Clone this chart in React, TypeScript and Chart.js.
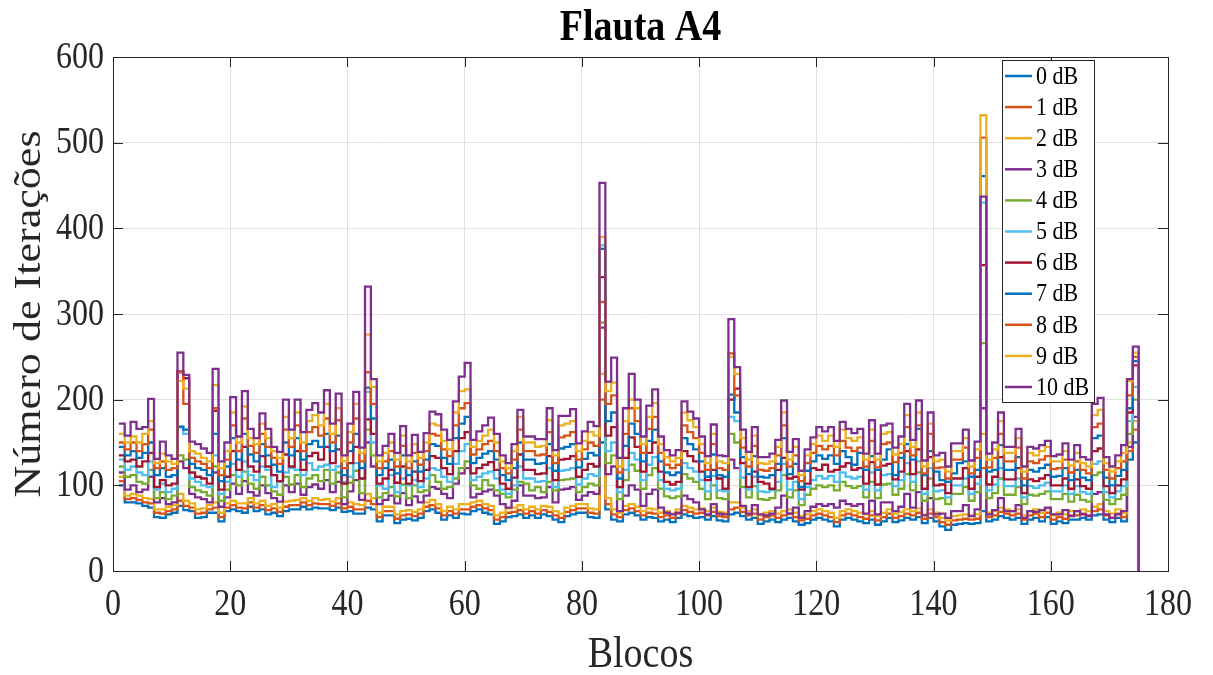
import React, { useEffect, useRef } from 'react';
import { Chart, registerables } from 'chart.js';

Chart.register(...registerables);

const FONT = "'Liberation Serif', 'Times New Roman', serif";

const titleText = 'Flauta A4';
const xTitle = 'Blocos';
const yTitle = 'Número de Iterações';
const xTicks = [0, 20, 40, 60, 80, 100, 120, 140, 160, 180];
const yTicks = [0, 100, 200, 300, 400, 500, 600];
const seriesLabels = ['0 dB', '1 dB', '2 dB', '3 dB', '4 dB', '5 dB', '6 dB', '7 dB', '8 dB', '9 dB', '10 dB'];
const seriesColors = ['#0072BD', '#D95319', '#EDB120', '#7E2F8E', '#77AC30', '#4DBEEE', '#A2142F', '#0072BD', '#D95319', '#EDB120', '#7E2F8E'];

// block numbers (categories on the x axis)
const blocks = Array.from({ length: 175 }, (_, i) => i + 1);

const db0 = [
  100,80,80,79,76,74,63,62,66,68,76,71,70,62,63,68,68,58,70,72,70,68,75,70,72,
  66,68,64,70,72,72,75,72,74,73,73,71,74,69,70,67,67,74,72,58,65,65,56,60,61,
  59,62,70,72,68,60,65,62,67,66,70,72,68,66,55,58,63,64,66,62,65,62,66,64,60,
  57,64,66,68,68,63,62,150,72,60,58,66,68,65,60,63,62,58,60,57,62,66,64,62,63,
  60,64,59,58,66,68,64,60,62,55,58,60,57,60,62,58,54,56,60,62,60,58,52,60,62,
  60,58,56,60,54,58,62,57,59,62,60,63,56,62,58,52,48,54,55,56,55,56,70,58,60,
  64,62,60,62,55,60,62,58,63,55,58,56,60,60,62,60,65,66,60,57,62,58,130,150,0,
];
const db1 = [
  105,84,85,83,80,79,68,67,70,72,82,76,74,67,68,72,74,63,74,77,74,73,80,74,77,
  71,73,69,75,77,77,80,77,79,78,78,76,79,73,75,72,72,82,78,63,70,70,61,65,66,
  64,67,75,77,73,65,70,67,72,72,75,77,73,71,60,63,68,69,71,67,70,67,71,69,65,
  62,69,71,73,73,68,67,200,78,66,63,71,73,70,65,68,67,63,65,62,67,71,69,67,68,
  65,69,64,63,72,74,69,65,67,60,63,65,62,65,67,63,59,61,65,67,65,63,57,65,67,
  65,63,61,65,59,63,67,62,64,67,65,68,61,67,63,57,54,59,60,61,60,61,120,63,65,
  69,67,65,67,60,65,67,63,68,60,63,61,65,65,67,65,70,72,65,62,67,63,140,165,0,
];
const db2 = [
  110,88,90,88,85,84,72,72,75,77,90,82,79,72,73,77,80,68,79,82,79,79,85,79,82,
  76,78,74,81,82,83,85,82,85,83,84,81,85,78,80,78,77,90,85,68,75,75,66,70,71,
  69,72,80,83,78,70,75,72,78,78,80,82,78,76,65,68,73,74,77,72,75,72,76,75,70,
  67,74,76,78,78,73,72,230,85,72,68,76,78,75,70,73,72,68,70,67,72,76,74,72,73,
  70,74,69,68,80,80,74,70,72,65,68,70,67,70,72,68,64,66,70,72,70,68,62,70,72,
  70,68,66,70,64,68,72,67,69,72,70,73,66,72,68,62,59,64,65,66,65,66,160,68,70,
  74,72,70,72,65,70,72,68,73,65,68,66,70,70,72,70,75,78,70,67,72,68,150,175,0,
];
const db3 = [
  115,95,100,92,95,110,80,85,78,80,128,120,90,86,84,80,115,75,86,102,90,105,92,88,100,
  91,85,81,100,92,102,89,98,101,96,106,92,104,78,93,106,83,150,122,78,83,88,79,91,77,
  87,80,88,98,96,90,85,102,114,120,86,90,93,95,88,78,74,82,100,88,88,85,86,98,80,
  95,96,98,83,88,92,90,284,113,122,70,88,100,95,76,90,95,74,68,66,68,88,84,80,72,
  66,78,67,66,130,120,76,67,77,66,65,67,74,88,67,74,62,70,75,78,76,78,74,82,78,
  76,78,67,82,66,80,80,70,75,90,74,92,65,85,66,67,62,70,70,77,64,72,190,66,71,
  85,70,70,77,62,70,69,71,74,66,66,71,64,70,66,64,90,92,66,62,66,70,145,180,0,
];
const db4 = [
  122,110,112,104,102,118,85,92,84,88,135,130,98,94,92,88,122,82,95,112,100,116,102,96,110,
  100,93,89,110,101,112,98,108,112,105,118,102,115,86,103,117,91,165,135,86,91,98,87,101,85,
  100,92,94,112,104,96,98,108,120,128,100,96,106,100,94,90,86,95,104,102,94,98,92,104,94,
  106,107,108,92,98,102,100,290,126,135,84,106,124,117,96,112,120,96,87,85,87,113,108,104,96,
  84,100,85,84,160,150,98,86,99,84,83,85,94,112,86,94,77,89,96,100,98,100,94,104,99,
  97,99,86,104,85,101,102,89,96,113,94,115,82,108,84,85,78,90,90,98,82,92,266,85,91,
  108,89,89,98,78,89,88,90,93,84,84,90,81,89,83,81,112,115,83,78,84,89,160,200,0,
];
const db5 = [
  130,118,122,115,112,128,95,102,92,96,169,160,108,104,100,98,135,90,104,125,110,128,112,106,122,
  118,98,104,115,120,118,112,126,118,122,124,118,122,104,110,126,108,209,150,100,96,112,92,108,100,
  106,98,108,120,118,110,104,125,140,148,106,110,114,116,108,95,90,100,122,108,108,104,105,120,98,
  117,118,120,101,108,113,111,380,140,150,92,118,138,130,106,124,133,106,96,94,96,126,120,116,106,
  93,111,94,93,180,175,109,95,110,93,92,94,104,125,95,104,84,98,106,111,108,111,104,115,110,
  108,110,95,115,94,112,113,99,106,126,104,128,90,120,93,94,86,100,100,108,90,102,430,94,101,
  120,99,99,108,86,99,97,100,103,93,93,100,90,99,92,90,125,128,92,86,93,99,175,215,0,
];
const db6 = [
  135,128,130,122,128,138,98,106,100,102,233,225,115,110,108,102,187,95,110,140,118,145,122,116,134,
  122,112,105,136,122,140,118,134,138,130,145,126,142,102,126,145,108,177,160,102,108,118,103,122,102,
  116,105,118,134,132,120,113,140,155,162,114,120,124,127,118,102,96,109,136,118,118,113,114,134,106,
  130,131,134,110,118,125,122,343,158,168,98,132,156,145,116,138,150,116,104,101,104,140,134,128,116,
  106,118,108,96,200,213,126,98,116,104,102,96,118,132,108,110,95,102,120,118,124,116,118,122,126,
  118,120,102,127,101,123,125,107,116,140,113,142,96,133,100,101,91,108,108,120,96,110,357,101,110,
  133,107,107,120,91,107,105,108,112,100,100,108,96,107,99,96,140,143,99,91,100,107,185,240,0,
];
const db7 = [
  145,135,140,132,138,150,112,120,110,112,168,165,125,120,118,112,160,105,122,155,130,160,136,128,148,
  135,124,116,150,135,155,130,148,152,145,160,140,158,112,140,160,120,214,178,112,120,130,114,135,112,
  128,116,130,148,146,132,125,155,172,180,126,132,137,140,130,112,106,120,150,130,130,125,126,148,117,
  143,145,148,121,131,138,135,376,175,185,108,146,172,160,128,152,165,128,115,112,115,155,148,142,128,
  110,136,112,110,206,185,133,113,134,110,109,112,125,155,113,125,98,117,128,135,131,135,125,140,133,
  124,138,118,134,118,130,142,112,132,148,130,166,112,140,116,106,104,114,126,128,110,118,461,116,118,
  147,118,118,133,100,118,116,120,124,110,111,120,106,118,109,106,155,158,109,100,111,118,190,245,0,
];
const db8 = [
  150,142,150,140,148,165,120,128,118,120,232,195,132,128,125,120,190,112,130,170,140,178,146,138,160,
  145,132,125,165,145,170,140,162,168,158,178,150,176,120,150,178,128,232,195,120,128,140,122,146,120,
  138,124,140,160,158,142,134,170,190,196,136,142,148,152,140,120,114,130,165,140,140,135,136,162,126,
  156,158,162,130,142,150,146,314,195,205,115,160,190,175,138,166,180,138,124,120,124,170,162,155,138,
  118,148,120,118,254,205,144,122,146,118,117,120,135,170,122,135,105,126,138,146,142,146,135,152,144,
  140,144,122,152,121,148,150,127,138,168,135,170,114,160,120,121,108,130,130,144,114,132,506,121,132,
  160,128,128,144,108,128,126,130,134,119,120,130,115,128,118,114,168,172,118,108,120,128,205,250,0,
];
const db9 = [
  160,150,157,150,160,175,126,137,128,125,222,213,140,137,132,128,217,120,140,185,150,192,155,148,172,
  155,140,132,180,155,185,150,175,182,170,195,160,190,128,162,195,138,276,215,128,138,150,130,158,128,
  148,132,150,172,170,152,142,185,210,212,145,152,158,165,150,128,120,140,180,150,150,145,146,176,135,
  170,172,175,140,152,162,158,390,210,220,122,175,200,190,148,180,196,148,133,128,132,185,176,168,148,
  126,160,128,126,250,230,155,130,158,126,125,128,145,185,130,145,112,135,148,158,152,158,145,165,155,
  152,156,130,165,130,160,162,136,148,182,145,185,122,172,128,130,116,140,140,155,122,142,532,130,142,
  175,138,138,155,116,138,135,140,145,128,128,140,123,138,126,122,182,188,126,116,128,138,222,255,0,
];
const db10 = [
  172,158,174,166,168,201,131,151,135,131,255,229,151,148,143,138,236,128,150,203,157,210,166,155,184,
  166,145,139,200,165,200,162,188,196,185,211,172,207,135,172,209,144,332,224,135,146,160,138,169,135,
  159,139,161,186,183,165,153,198,227,243,153,163,170,179,160,135,126,148,188,157,157,154,154,190,141,
  181,181,189,149,163,174,169,453,221,249,132,190,230,200,157,193,212,157,141,135,141,198,186,178,157,
  134,171,135,134,294,238,165,139,168,133,133,137,153,199,139,154,117,142,156,168,163,168,152,174,166,
  161,166,137,176,137,170,172,144,157,195,153,199,129,185,135,138,122,149,149,165,129,151,437,137,150,
  185,145,145,166,122,145,143,147,152,134,136,149,130,147,133,130,195,202,133,122,135,147,224,262,0,
];

const series = [db0, db1, db2, db3, db4, db5, db6, db7, db8, db9, db10];

const AXIS_COLOR = '#262626';
const STRETCH = 1.16; // reference text is taller than wide

function drawText(
  ctx: CanvasRenderingContext2D,
  text: string,
  x: number,
  y: number,
  font: string,
  align: CanvasTextAlign,
  color: string,
  rotate = false
) {
  ctx.save();
  ctx.translate(x, y);
  if (rotate) {
    ctx.rotate(-Math.PI / 2);
    ctx.scale(STRETCH, 1);
  } else {
    ctx.scale(1, STRETCH);
  }
  ctx.font = font;
  ctx.textAlign = align;
  ctx.textBaseline = 'middle';
  ctx.fillStyle = color;
  ctx.fillText(text, 0, 0);
  ctx.restore();
}

const decorPlugin = {
  id: 'decor',
  afterDraw(chart: any) {
    const { ctx, chartArea } = chart;
    const { left, right, top, bottom } = chartArea;
    const xs = chart.scales.x;
    const ys = chart.scales.y;
    ctx.save();
    // axes box
    ctx.strokeStyle = AXIS_COLOR;
    ctx.lineWidth = 1;
    ctx.strokeRect(Math.round(left) + 0.5, Math.round(top) + 0.5, Math.round(right - left), Math.round(bottom - top));
    // inward ticks
    const tl = 10;
    ctx.beginPath();
    xTicks.forEach((v) => {
      const px = Math.round(xs.getPixelForValue(v)) + 0.5;
      ctx.moveTo(px, bottom);
      ctx.lineTo(px, bottom - tl);
      ctx.moveTo(px, top);
      ctx.lineTo(px, top + tl);
    });
    yTicks.forEach((v) => {
      const py = Math.round(ys.getPixelForValue(v)) + 0.5;
      ctx.moveTo(left, py);
      ctx.lineTo(left + tl, py);
      ctx.moveTo(right, py);
      ctx.lineTo(right - tl, py);
    });
    ctx.stroke();
    ctx.restore();

    // tick labels
    const tickFont = `32px ${FONT}`;
    xTicks.forEach((v) => {
      drawText(ctx, String(v), xs.getPixelForValue(v), 605, tickFont, 'center', AXIS_COLOR);
    });
    yTicks.forEach((v) => {
      drawText(ctx, String(v), left - 9, ys.getPixelForValue(v) + 1, tickFont, 'right', AXIS_COLOR);
    });

    // axis titles
    const labFont = `38px ${FONT}`;
    drawText(ctx, xTitle, (left + right) / 2, 655, labFont, 'center', AXIS_COLOR);
    drawText(ctx, yTitle, 30, (top + bottom) / 2, labFont, 'center', AXIS_COLOR, true);

    // title
    drawText(ctx, titleText, (left + right) / 2, 29, `bold 38px ${FONT}`, 'center', '#000');

    // legend
    ctx.save();
    const lx = 1002;
    const ly = 60;
    const lw = 92;
    const lh = 342;
    ctx.fillStyle = '#ffffff';
    ctx.fillRect(lx, ly, lw, lh);
    ctx.strokeStyle = AXIS_COLOR;
    ctx.lineWidth = 1;
    ctx.strokeRect(lx + 0.5, ly + 0.5, lw, lh);
    seriesLabels.forEach((lab, i) => {
      const yy = 76 + i * 31.1;
      ctx.strokeStyle = seriesColors[i];
      ctx.lineWidth = 2.5;
      ctx.beginPath();
      ctx.moveTo(lx + 3, yy);
      ctx.lineTo(lx + 30, yy);
      ctx.stroke();
      drawText(ctx, lab, lx + 34, yy + 1, `22px ${FONT}`, 'left', '#000');
    });
    ctx.restore();
  },
};

export default function App() {
  const ref = useRef<HTMLCanvasElement | null>(null);
  useEffect(() => {
    if (!ref.current) return;
    const chart = new Chart(ref.current, {
      type: 'line',
      data: {
        datasets: series.map((vals, i) => ({
          label: seriesLabels[i],
          data: vals.map((v, j) => ({ x: blocks[j], y: v })),
          borderColor: seriesColors[i],
          backgroundColor: seriesColors[i],
          borderWidth: 2.3,
          pointRadius: 0,
          stepped: true,
          fill: false,
          order: 10 - i,
        })),
      },
      options: {
        animation: false,
        responsive: false,
        maintainAspectRatio: false,
        devicePixelRatio: 1,
        layout: { padding: { top: 57, right: 45, bottom: 0, left: 0 } },
        plugins: {
          legend: { display: false },
          title: { display: false },
          tooltip: { enabled: false },
        },
        scales: {
          x: {
            type: 'linear',
            min: 0,
            max: 180,
            afterBuildTicks: (s: any) => {
              s.ticks = xTicks.map((v) => ({ value: v }));
            },
            afterFit: (s: any) => {
              s.height = 104;
            },
            ticks: { display: false },
            grid: { color: '#e0e0e0', drawTicks: false, lineWidth: 1 },
            border: { display: false },
            title: { display: false },
          },
          y: {
            type: 'linear',
            min: 0,
            max: 600,
            afterBuildTicks: (s: any) => {
              s.ticks = yTicks.map((v) => ({ value: v }));
            },
            afterFit: (s: any) => {
              s.width = 113;
            },
            ticks: { display: false },
            grid: { color: '#e0e0e0', drawTicks: false, lineWidth: 1 },
            border: { display: false },
            title: { display: false },
          },
        },
      },
      plugins: [decorPlugin],
    } as any);
    return () => chart.destroy();
  }, []);
  return (
    <canvas
      ref={ref}
      width={1213}
      height={675}
      style={{ position: 'absolute', left: 0, top: 0, width: 1213, height: 675, display: 'block' }}
    />
  );
}
